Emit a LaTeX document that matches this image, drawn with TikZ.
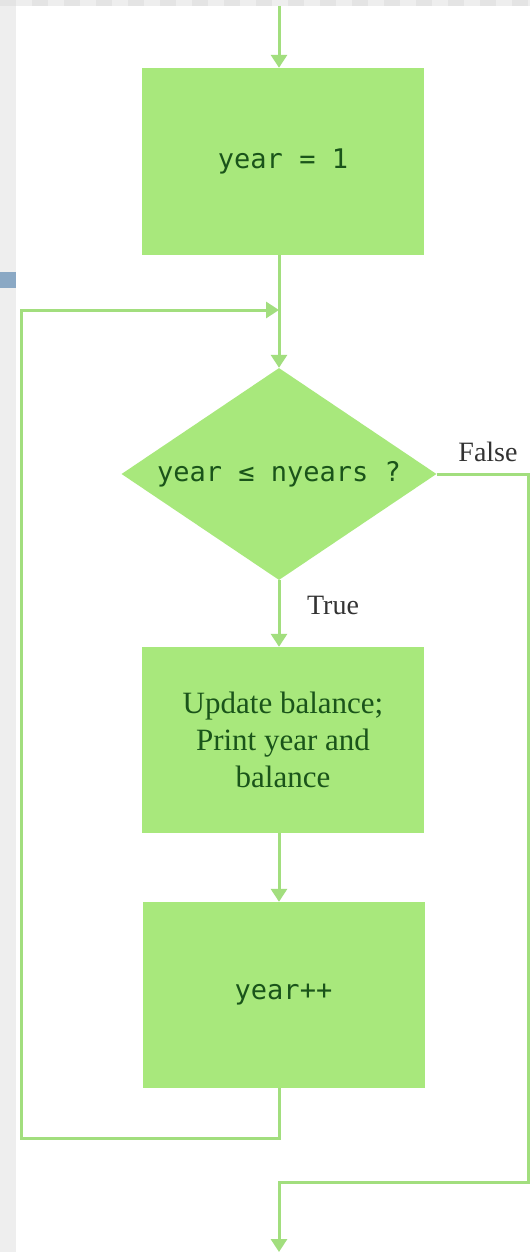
\documentclass[tikz,border=0pt]{standalone}
\usepackage{fontspec}
\setmainfont{Liberation Serif}
\newfontfamily\codefont{DejaVu Sans Mono}
\usetikzlibrary{arrows.meta,shapes.geometric}
\definecolor{boxfill}{HTML}{A8E87C}
\definecolor{linecol}{HTML}{A2DE7E}
\definecolor{txtgreen}{HTML}{1A541A}
\definecolor{stripgray}{HTML}{EEEEEE}
\definecolor{stripdark}{HTML}{E4E4E4}
\definecolor{blueish}{HTML}{8AA8C4}
\begin{document}
\begin{tikzpicture}[x=1pt,y=-1pt,
  box/.style={draw=none, fill=boxfill, minimum width=282pt, minimum height=186pt, inner sep=0pt, text=txtgreen, align=center},
  flow/.style={draw=linecol, line width=3pt},
  arr/.style={flow, -{Triangle[width=16pt,length=13pt]}},
  code/.style={font=\codefont\fontsize{27}{31}\selectfont},
  serif/.style={font=\fontsize{31}{37}\selectfont},
  lbl/.style={font=\fontsize{28}{32}\selectfont, text=black!80, inner sep=0pt}
]
\useasboundingbox (0,0) rectangle (530,1252);
\fill[white] (0,0) rectangle (530,1252);
\fill[stripgray] (0,0) rectangle (16,1252);
\fill[stripgray] (0,0) rectangle (530,6);
\foreach \i in {0,2,...,32} \fill[stripdark] (\i*16,0) rectangle ++(16,6);
\fill[blueish] (0,272) rectangle (16,288);

\node[box, code, minimum height=187pt] (b1) at (283,161.5) {year = 1};
\node[diamond, aspect=1.486, fill=boxfill, minimum width=315pt, minimum height=212pt, inner sep=0pt, text=txtgreen, code] (dec) at (279,474) {year ≤ nyears ?};
\node[box, serif] (b2) at (283,740) {Update balance;\\Print year and\\balance};
\node[box, code] (b3) at (283.5,995) {year++};

\coordinate (top) at (279,6);
\coordinate (loopB) at (21,1138);
\coordinate (loopT) at (21,310);
\coordinate (join) at (279,310);
\coordinate (fr) at (528,474);
\coordinate (fb) at (528,1182);
\coordinate (fl) at (279,1182);
\coordinate (bottom) at (279,1252);

\draw[arr] (top) -- (top |- b1.north);
\draw[arr] (b1.south -| top) -- (dec.north);
\draw[arr] (b3.south -| top) -- (top |- loopB) -- (loopB) -- (loopT) -- (join);
\draw[arr] (dec.south) -- (top |- b2.north);
\draw[arr] (b2.south -| top) -- (top |- b3.north);
\draw[arr] (dec.east) -- (fr) -- (fb) -- (fl) -- (bottom);

\node[lbl] (false) at (488,452) {False};
\node[lbl] (true) at (333,605) {True};
\end{tikzpicture}
\end{document}
